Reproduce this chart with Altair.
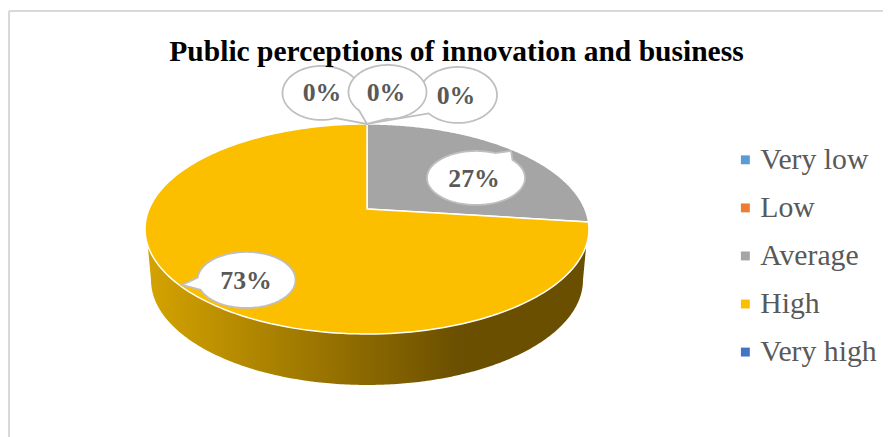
import numpy as np
import altair as alt

# ---- chart values
categories = ["Very low", "Low", "Average", "High", "Very high"]
shares = [0, 0, 27, 73, 0]
colors = ["#5b9bd5", "#ed7d31", "#a5a5a5", "#fcbf00", "#4472c4"]
title_text = "Public perceptions of innovation and business"

# ---- layout: positions below are picture pixels, converted by PX / PY
# (the page shrinks an 883 px wide svg to the 875 px body width and centres it vertically)
M = 8
W, H = 883, 434
S = 883 / 875
CX, CY = 367, 209
A, B, K = 101.2, 217.9, 0.1905


def PX(x):
    return (x - M) * S


def PY(y):
    return (y - M - 2) * S


def top_point(t):
    """Clockwise share angle t from 12 o'clock on the tilted pie top."""
    u, v = np.sin(t), np.cos(t)
    d = 1 + K * v
    return CX + B * u / d, CY - A * v / d


def feature(pts, **props):
    ring = [[float(PX(x)), float(PY(y))] for x, y in pts]
    ring.append(ring[0])
    return {"type": "Feature", "properties": props,
            "geometry": {"type": "Polygon", "coordinates": [ring]}}


# pie sectors from the shares
sectors = []
acc = 0.0
for cat, s in zip(categories, shares):
    if s > 0:
        t = np.radians(np.linspace(acc, acc + s, 180) * 3.6)
        x, y = top_point(t)
        sectors.append(feature([(CX, CY)] + list(zip(x, y)), category=cat))
    acc += s

# 3D rim
tt = np.linspace(0, 2 * np.pi, 720)
ex, ey = top_point(tt)
upper = sorted([(a, b) for a, b in zip(ex, ey) if b >= 245])
ph = np.linspace(0, np.pi, 240)
lower = [(367 + 216 * np.cos(p), 280 + 105 * np.sin(p)) for p in ph]
side = [feature(upper + lower)]

# call-outs: centre x, centre y, rx, ry, tip x, tip y, half tail width (rad), text, text x, text y
callouts = [
    (458, 95, 39, 28, 367, 124, 0.30, "0%", 456, 96),
    (321.5, 93, 39, 27, 367, 124, 0.42, "0%", 322, 93),
    (387.5, 92, 39, 27, 367, 124, 0.40, "0%", 386, 93),
    (476, 178, 49, 27, 511, 151, 0.22, "27%", 474, 179),
    (246.5, 280, 49, 28, 182, 285, 0.22, "73%", 246, 281),
]


def bubble(cx, cy, rx, ry, tx, ty, hw):
    a = np.arctan2((ty - cy) / ry, (tx - cx) / rx)
    ang = np.linspace(a + hw, a + 2 * np.pi - hw, 160)
    pts = [(cx + rx * np.cos(p), cy + ry * np.sin(p)) for p in ang]
    return feature(pts + [(tx, ty)])


labels = [{"text": c[7], "x": PX(c[8]), "y": PY(c[9])} for c in callouts]

proj = dict(type="identity", scale=1, translate=[0, 0])
xs = alt.Scale(domain=[0, W], range=[0, W])
ys = alt.Scale(domain=[0, H], range=[0, H])

frame_top = alt.Chart(alt.Data(values=[{"a": 1}])).mark_rule(color="#d9d9d9", strokeWidth=2).encode(
    x=alt.value(PX(9)), x2=alt.value(W), y=alt.value(PY(11)))
frame_left = alt.Chart(alt.Data(values=[{"a": 1}])).mark_rule(color="#d9d9d9", strokeWidth=2).encode(
    x=alt.value(PX(9)), y=alt.value(PY(11)), y2=alt.value(H))

rim = alt.Chart(alt.Data(values=side)).mark_geoshape(
    fill=alt.LinearGradient(gradient="linear", x1=0, x2=1, y1=0, y2=0, stops=[
        alt.GradientStop(color="#d4a300", offset=0),
        alt.GradientStop(color="#6b4f00", offset=0.71),
        alt.GradientStop(color="#6b4f00", offset=1),
    ]), strokeWidth=0).project(**proj)

pie = alt.Chart(alt.Data(values=sectors)).mark_geoshape(
    stroke="white", strokeWidth=1.5).encode(
    color=alt.Color("properties.category:N",
                    scale=alt.Scale(domain=categories, range=colors),
                    legend=alt.Legend(title=None, orient="none", legendX=PX(730.5), legendY=PY(145),
                                      symbolType="square", symbolSize=81, symbolStrokeWidth=0,
                                      labelFont="Liberation Serif", labelFontSize=30,
                                      labelColor="#595959", labelOffset=0,
                                      rowPadding=18.5, labelLimit=200))
).project(**proj)

bubbles = alt.Chart(alt.Data(values=[bubble(*c[:7]) for c in callouts])).mark_geoshape(
    fill="white", stroke="#bfbfbf", strokeWidth=1.8).project(**proj)

texts = alt.Chart(alt.Data(values=labels)).mark_text(
    font="Liberation Serif", fontSize=26, fontWeight="bold", color="#595959",
    align="center", baseline="middle").encode(
    x=alt.X("x:Q", scale=xs, axis=None),
    y=alt.Y("y:Q", scale=ys, axis=None),
    text="text:N")

chart = alt.layer(frame_top, frame_left, rim, pie, bubbles, texts).properties(
    width=W, height=H, padding=0, autosize=alt.AutoSizeParams(type="none"),
    title=alt.TitleParams(title_text, font="Liberation Serif", fontSize=29.8, fontWeight="bold",
                          color="#000000", anchor="start", align="center", frame="group",
                          baseline="alphabetic", offset=0, dx=PX(456.5), dy=81)
).configure_view(stroke=None)

chart.save("out.html", embed_options={"renderer": "svg", "actions": False})
